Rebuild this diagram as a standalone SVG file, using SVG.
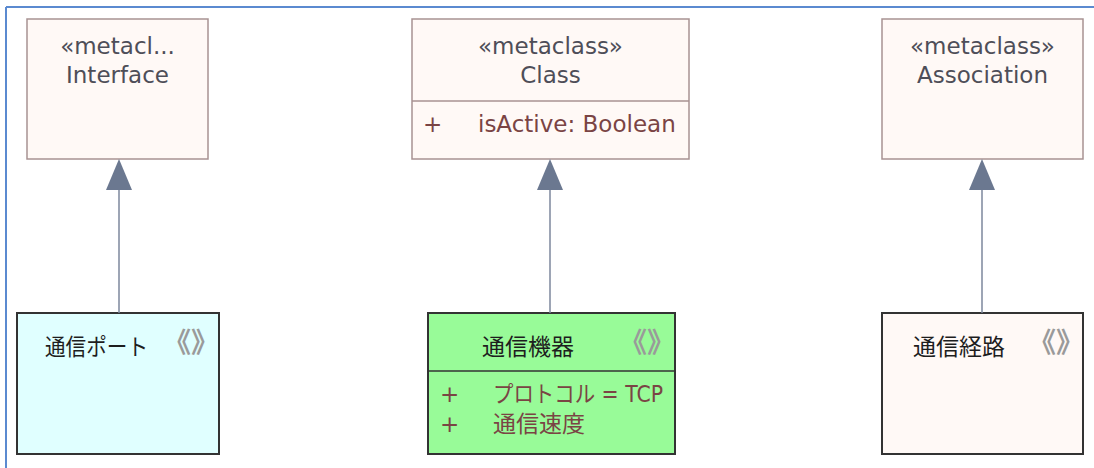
<svg xmlns="http://www.w3.org/2000/svg" width="1094" height="468" viewBox="0 0 1094 468">
<style>
.meta{fill:#FFF9F6;stroke:#A89292;stroke-width:1.5}
.elem{stroke:#333333;stroke-width:2}
.t{font-family:"DejaVu Sans","Noto Sans CJK JP",sans-serif;font-size:23px}
.st{fill:#4E4E58}
.nm{fill:#1E1E1E}
.at{fill:#7A4444}
.ic{fill:#9A9A9A;font-family:"Noto Sans CJK JP",sans-serif;font-size:28px;font-weight:bold}
.conn{stroke:#7C879C;stroke-width:1.5;fill:none}
</style>
<defs>
<marker id="gen" viewBox="0 0 31 26" refX="0" refY="13" markerWidth="31" markerHeight="26" markerUnits="userSpaceOnUse" orient="auto">
<path d="M0,0 L31,13 L0,26 Z" fill="#6B7890"/>
</marker>
</defs>
<rect width="1094" height="468" fill="#FFFFFF"/>
<g id="frame">
<line x1="6" y1="7" x2="1094" y2="7" stroke="#5B8AD0" stroke-width="2"/>
<line x1="6" y1="7" x2="6" y2="468" stroke="#5B8AD0" stroke-width="2"/>
</g>
<g id="interface">
<rect class="meta" x="27" y="19" width="181" height="140"/>
<text class="t st" x="117.5" y="54" text-anchor="middle">«metacl...</text>
<text class="t st" x="117.5" y="83" text-anchor="middle">Interface</text>
</g>
<g id="class">
<rect class="meta" x="412" y="19" width="277" height="140"/>
<line x1="412" y1="101" x2="689" y2="101" stroke="#A89292" stroke-width="1.5"/>
<text class="t st" x="550.5" y="54" text-anchor="middle">«metaclass»</text>
<text class="t st" x="550.5" y="83" text-anchor="middle">Class</text>
<text class="t at" x="423" y="132">+</text>
<text class="t at" x="478" y="132">isActive: Boolean</text>
</g>
<g id="association">
<rect class="meta" x="882" y="19" width="201" height="140"/>
<text class="t st" x="982.5" y="54" text-anchor="middle">«metaclass»</text>
<text class="t st" x="982.5" y="83" text-anchor="middle">Association</text>
</g>
<g id="port">
<rect class="elem" x="17" y="313" width="202" height="141" fill="#E0FFFF"/>
<text class="t nm" x="45" y="355" textLength="103" lengthAdjust="spacingAndGlyphs">通信ポート</text>
<text class="ic" x="163" y="353">《》</text>
</g>
<g id="device">
<rect class="elem" x="428" y="313" width="247" height="141" fill="#98FB98"/>
<line x1="428" y1="371" x2="675" y2="371" stroke="#333333" stroke-width="1.5"/>
<text class="t nm" x="482" y="355">通信機器</text>
<text class="ic" x="619" y="353">《》</text>
<text class="t at" x="440" y="402">+</text>
<text class="t at" x="493" y="402" textLength="170" lengthAdjust="spacingAndGlyphs">プロトコル = TCP</text>
<text class="t at" x="440" y="432">+</text>
<text class="t at" x="493" y="432">通信速度</text>
</g>
<g id="path">
<rect class="elem" x="882" y="313" width="201" height="141" fill="#FFF9F6"/>
<text class="t nm" x="913" y="355">通信経路</text>
<text class="ic" x="1028" y="353">《》</text>
</g>
<g id="connectors">
<line class="conn" x1="119" y1="313" x2="119" y2="190" marker-end="url(#gen)"/>
<line class="conn" x1="550" y1="313" x2="550" y2="190" marker-end="url(#gen)"/>
<line class="conn" x1="982" y1="313" x2="982" y2="190" marker-end="url(#gen)"/>
</g>
</svg>
